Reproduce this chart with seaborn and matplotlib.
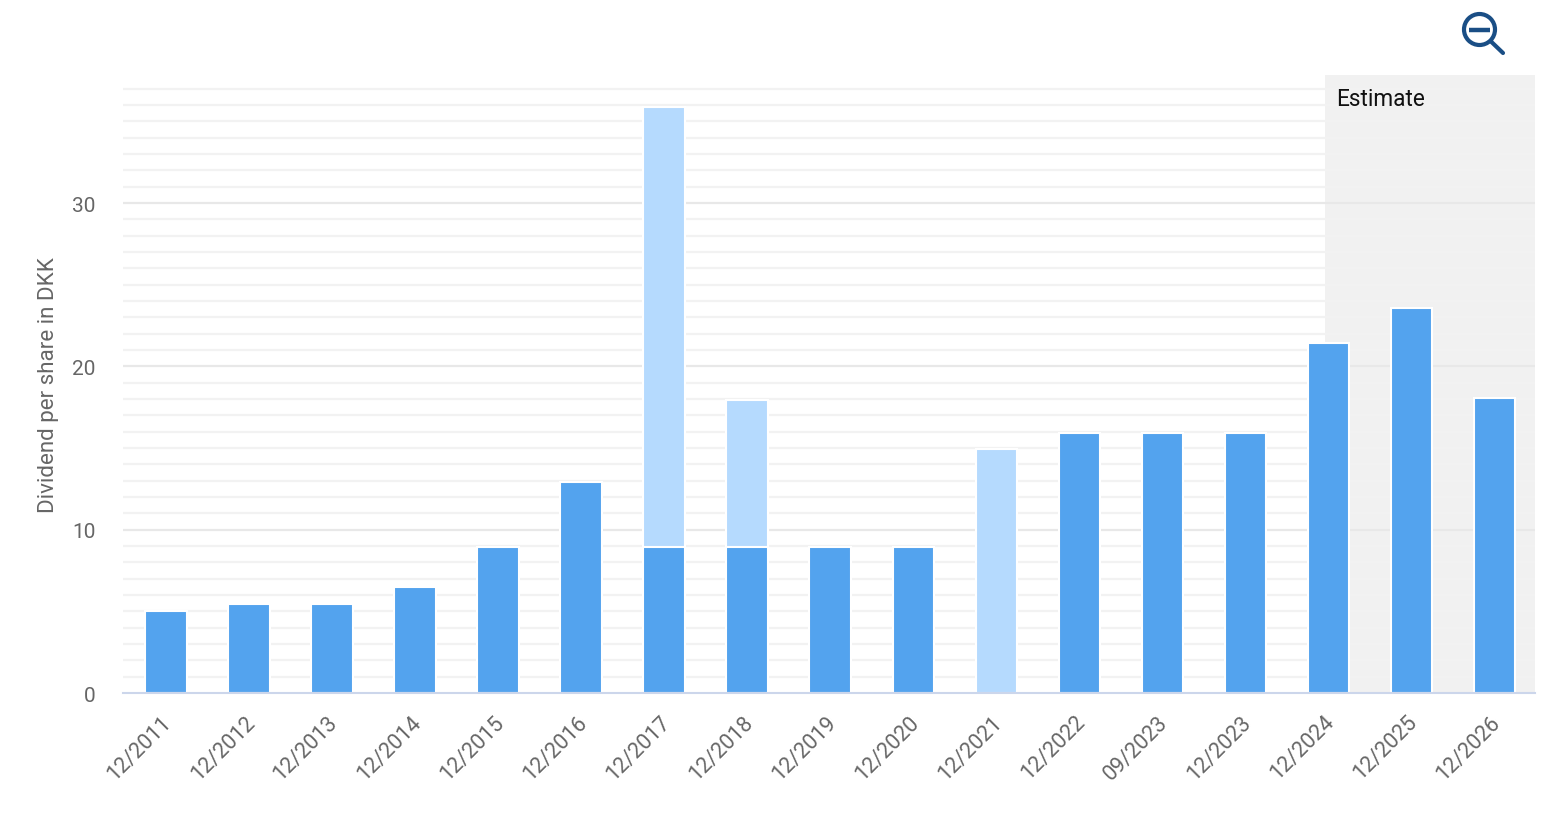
import numpy as np
import pandas as pd
import matplotlib
matplotlib.use('Agg')
import matplotlib.pyplot as plt
from matplotlib.patches import Circle
from matplotlib.transforms import ScaledTranslation
import seaborn as sns

# -----------------------------
# Data
# -----------------------------

periods = ['12/2011', '12/2012', '12/2013', '12/2014', '12/2015', '12/2016',
           '12/2017', '12/2018', '12/2019', '12/2020', '12/2021', '12/2022',
           '09/2023', '12/2023', '12/2024', '12/2025', '12/2026']
regular = [5, 5.45, 5.45, 6.5, 8.95, 12.9, 8.95, 8.95, 8.95, 8.95, np.nan, 15.9, 15.9, 15.9, 21.4, 23.55, 18.05]
# height including the special part
total = [np.nan, np.nan, np.nan, np.nan, np.nan, np.nan, 35.9, 17.95, np.nan, np.nan, 14.95,
         np.nan, np.nan, np.nan, np.nan, np.nan, np.nan]
major_ticks = [0, 10, 20, 30]
minor_ticks = [v for v in range(1, 38) if v % 10 != 0]

df = pd.DataFrame({'period': periods, 'regular': regular, 'total': total})

# -----------------------------
# Figure
# -----------------------------

sns.set_theme(style='white')
plt.rcParams['font.family'] = ['Roboto', 'DejaVu Sans']

W, H = 1559, 829
fig = plt.figure(figsize=(W / 100, H / 100), dpi=100)
ax = fig.add_axes([123 / W, 1 - 694 / H, 1412 / W, 618 / H])

ax.axvspan(13.96, 16.49, color='#f1f1f1', lw=0, zorder=0)

# gridlines stop at 37, the band goes higher
ax.hlines(minor_ticks, -0.524, 16.49, color='#f2f2f2', lw=1.6, zorder=1)
ax.hlines(major_ticks[1:], -0.524, 16.49, color='#e8e8e8', lw=1.6, zorder=1)

sns.barplot(data=df, x='period', y='total', order=periods, color='#b5dafe', saturation=1,
            width=0.5, edgecolor='white', linewidth=1.5, errorbar=None, ax=ax, zorder=3)
sns.barplot(data=df, x='period', y='regular', order=periods, color='#53a3ee', saturation=1,
            width=0.5, edgecolor='white', linewidth=1.5, errorbar=None, ax=ax, zorder=3)

ax.set_xlim(-0.52, 16.49)
ax.set_ylim(0, 37.84)
ax.set_yticks(major_ticks)
ax.set_xlabel('')
ax.set_ylabel('Dividend per share in DKK', fontsize=16.1, color='#666666', labelpad=9)
ax.tick_params(axis='y', length=0, pad=20, labelsize=15, labelcolor='#666666')
ax.tick_params(axis='x', length=0, pad=13, labelsize=15.5, labelcolor='#666666')
plt.setp(ax.get_xticklabels(), rotation=45, ha='right', rotation_mode='anchor')
for label in ax.get_xticklabels():
    label.set_transform(label.get_transform() + ScaledTranslation(-0.05, 0, fig.dpi_scale_trans))

sns.despine(ax=ax, left=True, top=True, right=True)
ax.spines['bottom'].set_color('#ccd6eb')
ax.spines['bottom'].set_linewidth(1.5)
ax.spines['bottom'].set_zorder(4)

# -----------------------------
# Zoom icon and Estimate label
# -----------------------------

icon = fig.add_axes([0, 0, 1, 1])
icon.set_xlim(0, W)
icon.set_ylim(H, 0)
icon.axis('off')
icon.text(1336, 99, 'Estimate', fontsize=16.3, color='#111111', va='center')
icon.add_patch(Circle((1479.5, 30.5), 15.5, fill=False, ec='#1a4e85', lw=3))
icon.plot([1469, 1490], [30.5, 30.5], color='#1a4e85', lw=3.2, solid_capstyle='butt')
icon.plot([1491, 1503], [42.5, 54], color='#1a4e85', lw=3, solid_capstyle='round')

fig.savefig('out.png', dpi=100)
